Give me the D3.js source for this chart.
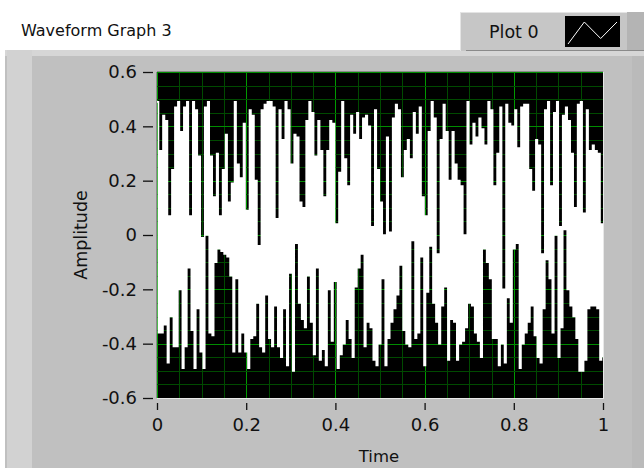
<!DOCTYPE html>
<html><head><meta charset="utf-8">
<script src="https://cdn.jsdelivr.net/npm/d3@7"></script>
<style>body{margin:0;background:#fff;}svg{display:block;}</style>
</head><body>
<svg id="c" width="644" height="468"></svg>
<script>
// ----- data (per ~3px column, max then min) -----
const title = "Waveform Graph 3";
const legendLabel = "Plot 0";
const xLabel = "Time";
const yLabel = "Amplitude";
const xTicks = [0, 0.2, 0.4, 0.6, 0.8, 1];
const xTickLabels = ["0", "0.2", "0.4", "0.6", "0.8", "1"];
const yTicks = [0.6, 0.4, 0.2, 0, -0.2, -0.4, -0.6];
const yTickLabels = ["0.6", "0.4", "0.2", "0", "-0.2", "-0.4", "-0.6"];
const amplitude = [
 .49,-.36, .31,-.36, .44,-.33, .42,-.47, .07,-.30, .24,-.41, .47,-.41, .49,-.20, .38,-.49, .47,-.41,
 .49,-.12, .07,-.35, .49,-.49, .46,-.27, .29,-.43, -.01,-.49, .47,.00, .49,-.36, .29,-.37, .14,-.10,
 .30,-.05, .07,-.06, .24,-.07, .37,-.08, .12,-.15, .19,-.43, .49,-.16, .26,-.43, .21,-.36, .41,-.43,
 .09,-.49, .46,-.38, .44,-.37, .20,-.25, -.04,-.41, .46,-.43, .48,-.22, .49,-.38, .49,-.41, .47,-.26,
 .06,-.41, .46,-.45, .35,-.27, .49,-.48, .46,-.14, .26,-.50, .37,-.03, .36,-.25, .12,-.31, .10,-.34,
 .42,-.15, .49,-.32, .45,-.44, .29,-.12, .42,-.46, .31,-.42, .14,-.48, .31,-.20, .42,-.39, .41,-.17,
 .04,-.49, .23,-.44, .49,-.40, .28,-.31, .18,-.38, .44,-.45, .37,-.19, .45,-.12, .35,-.07, .43,-.41,
 .44,-.32, .40,-.34, .03,-.46, .46,-.48, .24,-.40, .12,-.16, .00,-.48, .36,-.38, .01,-.32, .43,-.27,
 .48,-.22, .46,-.11, .21,-.35, .31,-.40, .35,-.41, .28,-.02, .45,-.38, .37,-.36, .47,-.08, .14,-.48,
 .07,-.21, .38,-.04, .49,-.25, .43,-.32, -.07,-.40, .35,-.26, .48,-.19, .38,-.46, .20,-.31, .38,-.32,
 .26,-.46, .20,-.40, .18,-.39, .00,-.34, .49,-.25, .33,-.26, .41,-.36, .36,-.39, .43,-.45, .39,-.05,
 .33,-.10, .49,-.16, .46,-.38, .18,-.38, .30,-.48, .47,-.40, -.20,-.47, .48,-.23, .41,-.32, .40,-.05,
 .46,-.03, .32,-.49, .47,-.40, .48,-.36, .48,-.32, .24,-.26, .16,-.37, .35,-.45, .33,-.47, -.07,-.27,
 .46,-.09, .49,-.16, .18,-.36, .45,.00, .49,-.45, .03,-.34, .44,.02, .47,-.20, .42,-.26, .30,-.30,
 .10,-.38, .48,-.50, .49,-.50, .08,-.46, .46,-.27, .31,-.26, .33,-.26, .31,-.27, .30,-.46, .04,-.45
];

// ----- drawing -----
const svg = d3.select("#c");
const L = 157, R = 603, T = 72, B = 398;
const x = d3.scaleLinear().domain([0, 1]).range([L, R]);
const y = d3.scaleLinear().domain([-0.6, 0.6]).range([B, T]);
const font = "'DejaVu Sans', sans-serif";

// panel background
svg.append("rect").attr("x", 5).attr("y", 50).attr("width", 639).attr("height", 418).attr("fill", "#c0c0c0");
svg.append("rect").attr("x", 5).attr("y", 50).attr("width", 639).attr("height", 6).attr("fill", "#d6d6d6");
svg.append("rect").attr("x", 7).attr("y", 50).attr("width", 25).attr("height", 418).attr("fill", "#d2d2d2");
svg.append("rect").attr("x", 632).attr("y", 56).attr("width", 12).attr("height", 412).attr("fill", "#bababa");

// title
svg.append("text").attr("x", 21).attr("y", 36).attr("font-family", font).attr("font-size", 16)
  .attr("fill", "#111").text(title);

// legend
svg.append("rect").attr("x", 460).attr("y", 12).attr("width", 184).attr("height", 39).attr("fill", "#c6c6c6");
svg.append("line").attr("x1", 460).attr("x2", 644).attr("y1", 12.5).attr("y2", 12.5).attr("stroke", "#e4e4e4");
svg.append("line").attr("x1", 460.5).attr("x2", 460.5).attr("y1", 12).attr("y2", 51).attr("stroke", "#e4e4e4");
svg.append("line").attr("x1", 466).attr("x2", 644).attr("y1", 50.5).attr("y2", 50.5).attr("stroke", "#8a8a8a");
svg.append("rect").attr("x", 627).attr("y", 12).attr("width", 17).attr("height", 38).attr("fill", "#b4b4b4");
svg.append("text").attr("x", 489).attr("y", 38).attr("font-family", font).attr("font-size", 17.5)
  .attr("fill", "#111").text(legendLabel);
svg.append("rect").attr("x", 565).attr("y", 16).attr("width", 55).attr("height", 31).attr("fill", "#000");
const sw = d3.scaleLinear().domain([0, 3]).range([568, 617]);
const swy = d3.scaleLinear().domain([0, 1]).range([44, 22]);
svg.append("path").attr("d", d3.line().x((d, i) => sw(i)).y(d => swy(d))([0, 1, 0.25, 1]))
  .attr("fill", "none").attr("stroke", "#fff").attr("stroke-width", 1);

// plot area
svg.append("rect").attr("x", L).attr("y", T).attr("width", R - L).attr("height", B - T).attr("fill", "#000");
const minorX = d3.range(0, 21).map(i => i * 0.05);
const minorY = d3.range(0, 25).map(i => -0.6 + i * 0.05);
const g = svg.append("g");
g.selectAll(".mx").data(minorX).join("line")
  .attr("x1", d => Math.round(x(d)) + 0.5).attr("x2", d => Math.round(x(d)) + 0.5)
  .attr("y1", T).attr("y2", B)
  .attr("stroke", (d, i) => i % 4 === 0 ? "#009a00" : "#004a00").attr("stroke-width", 1);
g.selectAll(".my").data(minorY).join("line")
  .attr("y1", d => Math.round(y(d)) + 0.5).attr("y2", d => Math.round(y(d)) + 0.5)
  .attr("x1", L).attr("x2", R)
  .attr("stroke", (d, i) => i % 4 === 0 ? "#008c00" : "#004a00").attr("stroke-width", 1);

svg.append("clipPath").attr("id", "clip").append("rect")
  .attr("x", L).attr("y", T).attr("width", R - L).attr("height", B - T);
const N = amplitude.length;
const line = d3.line().curve(d3.curveStepAfter).x((d, i) => x(i / (N - 1))).y(d => y(d));
svg.append("path").attr("clip-path", "url(#clip)").attr("d", line(amplitude))
  .attr("fill", "none").attr("stroke", "#fff").attr("stroke-width", 1.6).attr("stroke-linejoin", "miter");

// frame edges
svg.append("line").attr("x1", L).attr("x2", R + 1).attr("y1", B + 0.5).attr("y2", B + 0.5).attr("stroke", "#e8e8e8");
svg.append("line").attr("x1", R + 0.5).attr("x2", R + 0.5).attr("y1", T).attr("y2", B + 1).attr("stroke", "#e8e8e8");
svg.append("line").attr("x1", L).attr("x2", R).attr("y1", T - 0.5).attr("y2", T - 0.5).attr("stroke", "#8a8a8a");
svg.append("line").attr("x1", L - 0.5).attr("x2", L - 0.5).attr("y1", T).attr("y2", B).attr("stroke", "#8a8a8a");

// axes
const yAxis = d3.axisLeft(y).tickValues(yTicks).tickFormat((d, i) => yTickLabels[i]).tickSize(10).tickPadding(6);
const ya = svg.append("g").attr("transform", `translate(${L - 4},0)`).call(yAxis);
const xAxis = d3.axisBottom(x).tickValues(xTicks).tickFormat((d, i) => xTickLabels[i]).tickSize(7).tickPadding(8);
const xa = svg.append("g").attr("transform", `translate(0,${B + 5})`).call(xAxis);
[ya, xa].forEach(a => {
  a.select(".domain").remove();
  a.selectAll(".tick line").attr("stroke", "#111").attr("stroke-width", 1.3);
  a.selectAll("text").attr("font-family", font).attr("font-size", 18).attr("fill", "#111");
});

svg.append("text").attr("x", 379).attr("y", 462).attr("text-anchor", "middle")
  .attr("font-family", font).attr("font-size", 16.5).attr("fill", "#111").text(xLabel);
svg.append("text").attr("transform", "translate(87,235) rotate(-90)").attr("text-anchor", "middle")
  .attr("font-family", font).attr("font-size", 17.5).attr("fill", "#111").text(yLabel);
</script>
</body></html>
